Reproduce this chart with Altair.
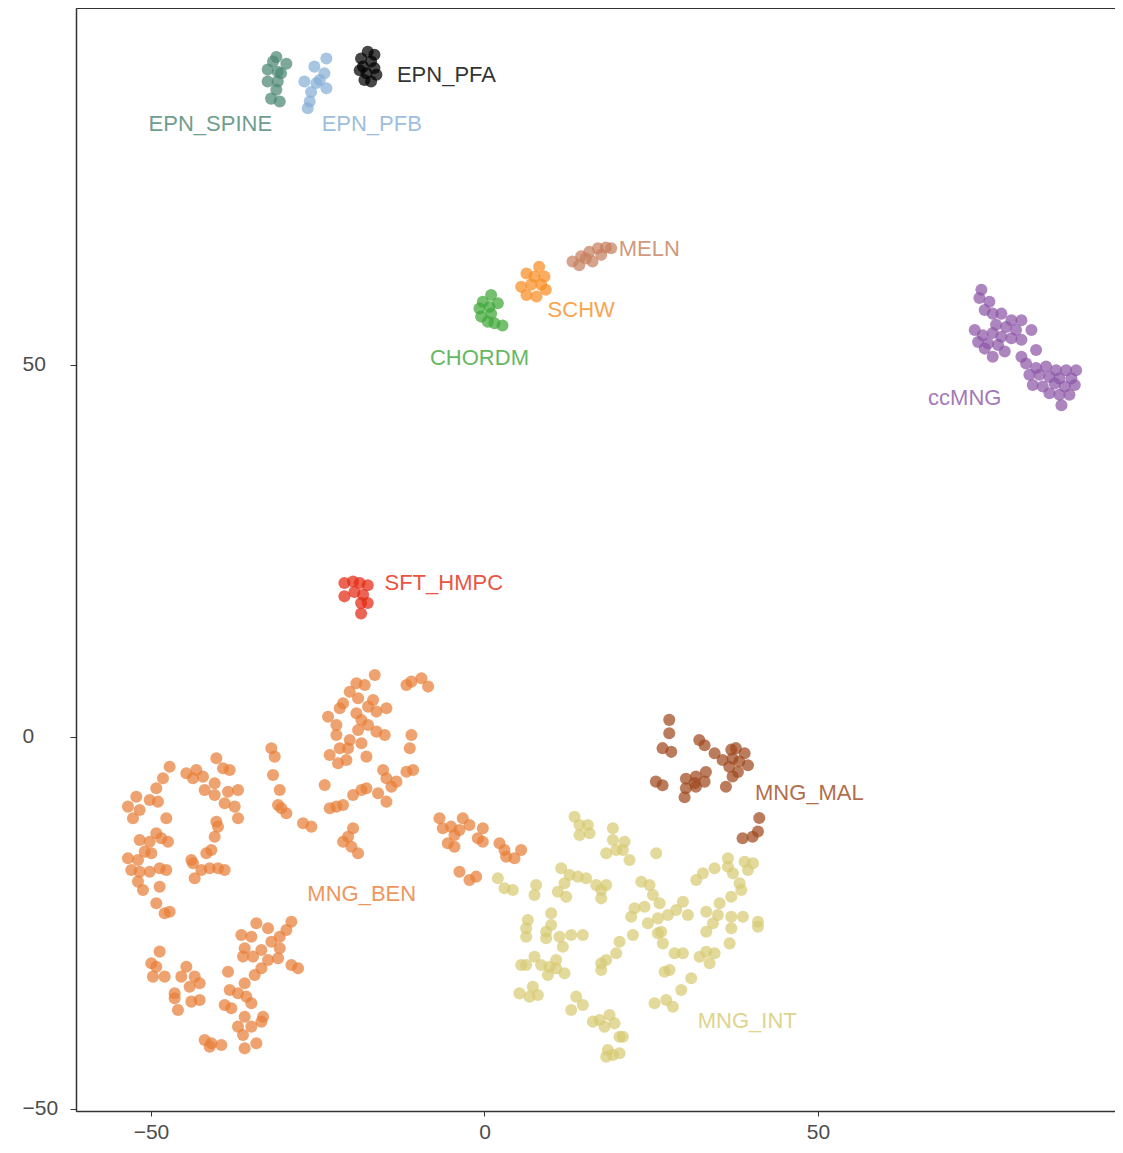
import altair as alt
import pandas as pd

# ---- cluster point coordinates (t-SNE units) ----
EPN_SPINE_x = [-31.2, -29.7, -32.5, -31.0, -30.5, -32.5, -31.0, -31.2, -32.0, -30.7, -31.7]
EPN_SPINE_y = [91.4, 90.5, 89.7, 89.4, 89.2, 88.1, 88.1, 87.0, 85.8, 85.4, 90.8]

EPN_PFB_x = [-23.7, -25.5, -24.0, -27.0, -25.2, -23.7, -26.0, -26.2, -26.5, -24.7]
EPN_PFB_y = [91.2, 90.1, 89.2, 88.1, 87.9, 87.2, 86.7, 85.4, 84.5, 88.3]

EPN_PFA_x = [-17.5, -16.5, -18.5, -17.0, -18.2, -16.5, -17.7, -16.2, -18.0, -17.0, -18.7]
EPN_PFA_y = [92.1, 91.7, 91.2, 90.8, 90.1, 89.9, 89.2, 89.0, 88.3, 88.1, 89.6]

MELN_x = [13.2, 14.5, 14.2, 15.7, 16.2, 17.0, 17.5, 18.2, 19.0, 15.2]
MELN_y = [63.9, 64.6, 63.4, 65.2, 63.9, 65.7, 64.8, 65.8, 65.7, 64.3]

SCHW_x = [6.3, 8.2, 7.5, 9.0, 5.5, 7.0, 8.5, 9.2, 6.3, 7.8]
SCHW_y = [62.3, 63.2, 61.9, 61.9, 60.5, 60.8, 60.8, 60.1, 59.4, 59.2]

CHORDM_x = [1.0, 2.0, -0.25, 0.75, -0.75, 1.0, -0.5, 0.5, 1.5, 2.7]
CHORDM_y = [59.4, 58.3, 58.5, 57.8, 57.6, 56.9, 56.5, 55.8, 55.6, 55.3]

ccMNG_x = [74.5, 74.2, 75.7, 75.0, 76.2, 77.5, 79.0, 80.5, 76.7, 78.2, 79.7, 82.0,
           73.5, 74.7, 76.2, 77.5, 79.0, 80.5, 74.0, 75.5, 77.0, 75.0, 76.2, 78.0,
           82.7, 80.5, 81.2, 82.7, 84.2, 85.7, 87.2, 88.7, 81.7, 83.2, 84.7, 86.2,
           88.0, 82.2, 83.7, 85.5, 87.0, 88.5, 84.7, 86.2, 87.7, 86.5]
ccMNG_y = [60.1, 59.0, 58.5, 57.4, 56.9, 56.9, 56.0, 56.0, 55.4, 55.1, 54.7, 54.7,
           54.7, 54.0, 54.3, 53.8, 53.6, 53.4, 53.1, 52.9, 52.7, 52.2, 51.1, 51.8,
           52.0, 51.1, 50.2, 49.6, 49.8, 49.3, 49.3, 49.3, 48.7, 48.7, 48.4, 48.2,
           48.2, 47.3, 47.1, 47.5, 47.1, 47.3, 46.2, 46.0, 46.0, 44.6]

SFT_HMPC_x = [-21.0, -19.7, -18.7, -17.5, -21.0, -19.5, -18.2, -18.5, -17.5, -18.5]
SFT_HMPC_y = [20.7, 20.9, 20.7, 20.4, 18.9, 19.5, 19.1, 18.0, 18.0, 16.6]

MNG_MAL_x = [27.7, 27.7, 26.7, 28.0, 32.2, 33.0, 34.5, 35.7, 37.0, 37.7, 39.0, 37.2,
             38.2, 39.5, 36.7, 38.0, 37.2, 36.2, 33.2, 31.7, 30.2, 31.5, 33.0, 30.2,
             31.7, 30.0, 25.7, 26.7, 41.2, 41.0, 40.2, 38.7]
MNG_MAL_y = [2.3, 0.5, -1.5, -2.0, -0.4, -1.1, -2.2, -3.1, -1.7, -1.5, -2.2, -2.9,
             -3.3, -3.8, -4.0, -4.7, -5.3, -6.7, -4.7, -5.3, -5.6, -6.2, -6.0, -6.9,
             -6.7, -8.1, -6.0, -6.5, -10.9, -12.7, -13.4, -13.6]

MNG_INT_x = [13.5, 14.25, 15.5, 14.25, 15.75, 19.25, 19.25, 21.0, 18.25, 19.75, 20.75, 21.75,
             25.75, 2.0, 3.0, 4.25, 7.75, 7.5, 11.5, 12.75, 14.0, 15.25, 12.0, 11.0,
             12.25, 16.75, 18.25, 17.5, 17.5, 23.5, 24.75, 25.25, 26.25, 22.5, 24.0, 22.0,
             24.5, 26.0, 27.5, 28.75, 29.75, 30.5, 26.0, 26.5, 26.75, 31.75, 32.75, 34.5,
             36.5, 36.5, 37.25, 39.0, 40.25, 39.5, 38.25, 38.5, 37.0, 35.25, 35.0, 33.25,
             34.25, 33.25, 37.0, 38.75, 37.0, 36.75, 41.0, 41.0, 6.5, 6.25, 6.25, 10.0,
             10.0, 9.25, 9.25, 11.25, 11.75, 13.0, 14.75, 20.25, 19.75, 22.25, 5.5, 6.25,
             7.5, 8.5, 9.5, 10.75, 10.75, 12.0, 9.75, 17.5, 17.5, 18.25, 32.25, 33.25,
             34.5, 33.75, 28.5, 29.75, 27.0, 27.75, 31.0, 29.5, 5.25, 7.25, 6.75, 8.0,
             13.75, 14.75, 13.0, 16.25, 17.25, 18.75, 19.5, 18.0, 20.25, 20.75, 18.5, 18.25,
             20.25, 19.25, 25.5, 27.25, 28.25]
MNG_INT_y = [-10.71, -11.83, -11.83, -13.17, -12.95, -12.28, -13.85, -14.07, -15.64, -15.19, -15.19, -16.53,
             -15.64, -19.0, -20.34, -20.57, -19.89, -21.24, -17.65, -18.55, -18.77, -19.0, -19.67, -20.79,
             -21.46, -19.89, -19.89, -20.57, -21.69, -19.45, -19.89, -21.24, -22.36, -23.03, -22.81, -24.15,
             -25.05, -24.38, -23.93, -23.26, -22.14, -23.93, -26.39, -26.17, -27.74, -19.22, -18.33, -17.65,
             -16.31, -17.43, -18.33, -16.76, -16.98, -17.88, -19.67, -20.57, -21.46, -22.36, -23.93, -23.48,
             -25.05, -26.17, -24.15, -24.15, -25.72, -27.74, -24.82, -25.5, -24.6, -25.72, -26.84, -23.7,
             -25.27, -26.17, -27.06, -26.84, -28.18, -26.62, -26.62, -27.51, -29.08, -26.62, -30.65, -30.65,
             -29.53, -30.65, -31.99, -29.98, -31.1, -31.77, -30.87, -30.42, -31.32, -29.98, -29.53, -28.86,
             -29.08, -30.42, -29.08, -29.08, -31.54, -31.32, -32.44, -34.01, -34.46, -33.56, -34.9, -34.68,
             -34.9, -36.02, -36.7, -38.26, -38.04, -37.37, -38.49, -38.94, -40.28, -40.28, -42.07, -42.97,
             -42.52, -42.74, -35.8, -35.35, -36.25]

MNG_BEN_x = [-6.75, -6.25, -5.0, -3.25, -2.25, -3.75, -4.5, -5.5, -4.5, -0.25, -1.0, -0.25,
             2.25, 3.0, 3.25, 4.5, 5.5, -3.75, -2.25, -1.25,
             -16.45, -19.2, -17.95, -20.2, -18.95, -21.2, -21.7, -16.7, -17.45, -16.2, -14.7, -19.2,
             -18.45, -23.45, -22.2, -22.2, -18.95, -17.45, -16.2, -14.95, -20.2, -18.45, -21.7, -20.45,
             -23.2, -21.95, -20.7, -17.7, -11.7, -10.95, -9.45, -8.45, -10.95, -11.2, -15.2, -14.7,
             -13.2, -13.95, -11.7, -10.7, -15.95, -14.7, -17.7, -18.45, -19.7, -21.2, -22.2, -23.2,
             -23.95, -19.7, -20.45, -21.2, -19.95, -18.95, -31.95, -31.45, -31.7, -30.7, -30.95, -30.45,
             -29.7, -27.2, -25.95, -40.2, -39.2, -38.2, -44.7, -43.2, -43.7, -42.2, -40.45, -41.95,
             -40.45, -38.45, -36.95, -38.95, -37.45, -36.95, -40.2, -39.95, -40.45, -40.95, -41.7, -43.95,
             -43.7, -42.45, -41.2, -39.95, -38.95, -43.45, -47.2, -48.2, -49.2, -50.2, -48.95, -52.2,
             -53.45, -51.7, -52.7, -47.7, -49.2, -51.7, -50.2, -48.45, -47.45, -50.95, -53.45, -51.95,
             -49.95, -52.95, -51.7, -50.2, -48.7, -47.7, -51.95, -48.7,
             -51.2, -49.2, -47.95, -47.2, -34.2, -32.45, -28.95, -29.7, -36.45, -34.95, -30.7, -31.95,
             -35.95, -33.45, -30.7, -36.2, -34.7, -32.45, -30.95, -33.45, -34.45, -28.95, -27.95, -38.45,
             -35.95, -38.2, -36.95, -35.7, -34.95, -38.95, -37.95, -35.95, -33.2, -33.45, -36.95, -34.95,
             -36.2, -34.2, -35.95, -41.95, -40.95, -39.45, -41.2, -48.7, -49.95, -49.2, -49.7, -47.95,
             -44.7, -45.45, -43.45, -44.2, -42.7, -46.45, -46.45, -43.95, -42.7, -45.95]
MNG_BEN_y = [-10.93, -12.28, -12.05, -10.93, -11.83, -12.5, -13.17, -14.29, -14.74, -12.28, -13.62, -14.07,
             -14.29, -15.19, -16.09, -16.31, -15.19, -18.1, -19.22, -18.77,
             8.33, 7.21, 6.99, 6.09, 5.2, 4.53, 3.85, 4.97, 4.08, 3.41, 3.85, 3.18,
             2.29, 2.73, 1.61, 0.27, 0.94, 1.61, 0.72, 0.27, -0.4, -0.85, -1.52, -1.52,
             -2.42, -3.54, -3.09, -2.64, 6.99, 7.44, 7.89, 6.77, 0.27, -1.52, -4.43, -5.56,
             -6.0, -6.68, -4.66, -4.43, -7.57, -8.69, -6.9, -7.12, -7.8, -9.14, -9.36, -9.59,
             -6.45, -12.28, -13.4, -14.07, -14.74, -15.64, -1.52, -2.64, -5.11, -7.12, -9.14, -9.59,
             -10.26, -11.6, -12.05, -2.87, -4.21, -4.43, -4.88, -4.43, -5.56, -5.33, -6.23, -7.12,
             -7.8, -7.35, -7.12, -8.92, -9.36, -10.93, -11.38, -12.05, -13.4, -15.19, -15.64, -16.53,
             -16.98, -17.88, -17.65, -17.65, -17.88, -19.0, -3.99, -5.56, -6.9, -8.47, -8.69, -8.02,
             -9.36, -9.81, -10.93, -10.93, -12.95, -13.84, -14.07, -13.62, -14.07, -15.41, -16.31, -16.53,
             -15.64, -17.88, -18.1, -18.1, -17.65, -17.88, -19.44, -20.12,
             -20.56, -22.36, -23.7, -23.48, -25.04, -25.72, -24.82, -25.94, -26.61, -26.84, -26.84, -27.51,
             -28.4, -28.63, -28.4, -29.52, -29.52, -29.97, -29.75, -31.09, -31.99, -30.64, -31.09, -31.54,
             -33.11, -34.0, -34.45, -34.9, -35.8, -36.02, -36.47, -37.59, -37.59, -38.26, -38.93, -38.93,
             -40.05, -41.17, -41.85, -40.73, -41.17, -41.4, -41.62, -28.85, -30.42, -30.87, -32.21, -32.21,
             -30.87, -32.21, -32.21, -33.56, -33.11, -34.45, -35.13, -35.57, -35.35, -36.69]

# ---- cluster names, colours and label anchors ----
cluster_names = ["EPN_SPINE", "EPN_PFB", "EPN_PFA", "MELN", "SCHW", "CHORDM",
                 "ccMNG", "SFT_HMPC", "MNG_MAL", "MNG_INT", "MNG_BEN"]
cluster_colors = ["#4B8773", "#87AFD7", "#000000", "#C6805F", "#F88E23", "#3EA837",
                  "#8E58A8", "#E42A12", "#A04A1E", "#D7CA73", "#E87E37"]
label_x = [-41.1, -16.9, -5.7, 24.7, 14.5, -0.75, 72.0, -6.1, 48.7, 39.4, -18.4]
label_y = [82.4, 82.4, 89.0, 65.6, 57.4, 50.9, 45.6, 20.7, -7.5, -38.2, -21.1]
tick_values = [-50, 0, 50]

xs = [EPN_SPINE_x, EPN_PFB_x, EPN_PFA_x, MELN_x, SCHW_x, CHORDM_x,
      ccMNG_x, SFT_HMPC_x, MNG_MAL_x, MNG_INT_x, MNG_BEN_x]
ys = [EPN_SPINE_y, EPN_PFB_y, EPN_PFA_y, MELN_y, SCHW_y, CHORDM_y,
      ccMNG_y, SFT_HMPC_y, MNG_MAL_y, MNG_INT_y, MNG_BEN_y]

rows = []
for name, cx, cy in zip(cluster_names, xs, ys):
    for a, b in zip(cx, cy):
        rows.append({"x": a, "y": b, "cluster": name})
points = pd.DataFrame(rows)
labels = pd.DataFrame({"x": label_x, "y": label_y, "cluster": cluster_names})

FONT = "Liberation Sans"
color_scale = alt.Scale(domain=cluster_names, range=cluster_colors)
xscale = alt.Scale(domain=[-61.24, 94.53], nice=False, zero=False)
yscale = alt.Scale(domain=[-50.27, 97.98], nice=False, zero=False)

xaxis = alt.Axis(values=tick_values, title=None, grid=False, labelFontSize=21,
                 labelColor="#4d4d4d", labelFont=FONT, tickColor="#333333", tickSize=5,
                 labelPadding=5, domainColor="#333333", domainWidth=1.5)
yaxis = alt.Axis(values=tick_values, title=None, grid=False, labelFontSize=21,
                 labelColor="#4d4d4d", labelFont=FONT, tickColor="#333333", tickSize=6,
                 labelPadding=48, labelAlign="left", domainColor="#333333", domainWidth=1.5)

pts = alt.Chart(points).mark_circle(size=145, opacity=0.72).encode(
    x=alt.X("x:Q", scale=xscale, axis=xaxis),
    y=alt.Y("y:Q", scale=yscale, axis=yaxis),
    color=alt.Color("cluster:N", scale=color_scale, legend=None),
)

txt = alt.Chart(labels).mark_text(fontSize=22, font=FONT, opacity=0.8,
                                  align="center", baseline="middle").encode(
    x=alt.X("x:Q", scale=xscale),
    y=alt.Y("y:Q", scale=yscale),
    text="cluster:N",
    color=alt.Color("cluster:N", scale=color_scale, legend=None),
)

chart = (pts + txt).properties(
    width=1039, height=1103,
    autosize=alt.AutoSizeParams(type="none"),
    padding={"left": 68, "top": 0, "right": 0, "bottom": 34},
).configure_view(stroke="#333333", strokeWidth=1)

chart.save("out.html", embed_options={"renderer": "svg", "actions": False})
